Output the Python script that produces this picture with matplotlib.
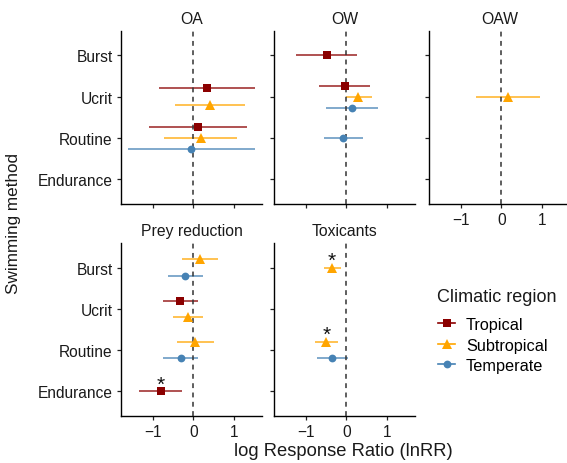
import matplotlib.pyplot as plt
from matplotlib.lines import Line2D

plt.rcParams["font.family"] = ["Liberation Sans", "DejaVu Sans"]
plt.rcParams["lines.scale_dashes"] = False

methods = ["Burst", "Ucrit", "Routine", "Endurance"]
regions = ["Tropical", "Subtropical", "Temperate"]
panels = ["OA", "OW", "OAW", "Prey reduction", "Toxicants"]

# one row per effect size estimate
panel = ["OA", "OA", "OA", "OA", "OA",
         "OW", "OW", "OW", "OW", "OW",
         "OAW",
         "Prey reduction", "Prey reduction", "Prey reduction", "Prey reduction",
         "Prey reduction", "Prey reduction", "Prey reduction",
         "Toxicants", "Toxicants", "Toxicants"]
method = ["Ucrit", "Ucrit", "Routine", "Routine", "Routine",
          "Burst", "Ucrit", "Ucrit", "Ucrit", "Routine",
          "Ucrit",
          "Burst", "Burst", "Ucrit", "Ucrit", "Routine", "Routine", "Endurance",
          "Burst", "Routine", "Routine"]
region = ["Tropical", "Subtropical", "Tropical", "Subtropical", "Temperate",
          "Tropical", "Tropical", "Subtropical", "Temperate", "Temperate",
          "Subtropical",
          "Subtropical", "Temperate", "Tropical", "Subtropical", "Subtropical", "Temperate", "Tropical",
          "Subtropical", "Subtropical", "Temperate"]
estimate = [0.34, 0.40, 0.11, 0.18, -0.05,
            -0.48, -0.04, 0.29, 0.14, -0.08,
            0.16,
            0.17, -0.20, -0.32, -0.14, 0.05, -0.31, -0.80,
            -0.35, -0.49, -0.35]
ci_low = [-0.85, -0.46, -1.08, -0.71, -1.62,
          -1.23, -0.68, -0.02, -0.50, -0.56,
          -0.62,
          -0.28, -0.63, -0.75, -0.50, -0.39, -0.75, -1.33,
          -0.56, -0.78, -0.72]
ci_high = [1.53, 1.28, 1.31, 1.07, 1.53,
           0.26, 0.59, 0.63, 0.78, 0.42,
           0.96,
           0.61, 0.24, 0.12, 0.23, 0.50, 0.12, -0.28,
           -0.14, -0.21, 0.03]
signif = [False, False, False, False, False,
          False, False, False, False, False,
          False,
          False, False, False, False, False, False, True,
          True, True, False]

colors = {"Tropical": "#8B0000", "Subtropical": "#FFA500", "Temperate": "#4682B4"}
markers = {"Tropical": "s", "Subtropical": "^", "Temperate": "o"}
msize = {"Tropical": 5.4, "Subtropical": 6.6, "Temperate": 5.6}

fig = plt.figure(figsize=(5.67, 4.64), dpi=100)
W, H = 567, 464


def add_axes(left, top, width=141, height=173):
    return fig.add_axes([left / W, (H - top - height) / H, width / W, height / H])


positions = {
    "OA": (121, 31.7), "OW": (274, 31.7), "OAW": (429, 31.7),
    "Prey reduction": (121, 244.0), "Toxicants": (274, 244.0),
}
bottom_labels = {"OAW", "Prey reduction", "Toxicants"}
left_labels = {"OA", "Prey reduction"}

dodge = 0.8
for p in panels:
    ax = add_axes(*positions[p])
    rows = [i for i in range(len(panel)) if panel[i] == p]
    ax.axvline(0, color="#333333", lw=1.1, ls=(0, (3.5, 3.2)), zorder=3)
    for m in methods:
        grp = [i for i in rows if method[i] == m]
        grp.sort(key=lambda i: regions.index(region[i]))
        n = len(grp)
        for k, i in enumerate(grp):
            y = methods.index(m) + (k - (n - 1) / 2) * dodge / n
            c = colors[region[i]]
            ax.plot([ci_low[i], ci_high[i]], [y, y], color=c, lw=1.2, alpha=0.8,
                    solid_capstyle="butt", zorder=2)
            ax.plot(estimate[i], y, marker=markers[region[i]], color=c,
                    ms=msize[region[i]], mew=0, ls="none", zorder=4)
            if signif[i]:
                ax.annotate("*", (estimate[i], y), xytext=(0, -1.5),
                            textcoords="offset points", ha="center", va="bottom",
                            fontsize=15, color="#111111")
    ax.set_xlim(-1.78, 1.69)
    ax.set_ylim(3.6, -0.6)
    ax.set_xticks([-1, 0, 1])
    ax.set_yticks(range(len(methods)))
    ax.set_yticklabels(methods)
    for s in ["top", "right"]:
        ax.spines[s].set_visible(False)
    for s in ["left", "bottom"]:
        ax.spines[s].set_linewidth(1.0)
        ax.spines[s].set_color("black")
    ax.tick_params(length=3, width=0.9, color="#222222", labelsize=11.2,
                   labelcolor="#1a1a1a", pad=3)
    if p not in bottom_labels:
        ax.tick_params(labelbottom=False)
    if p not in left_labels:
        ax.tick_params(labelleft=False)
    ax.set_title(p, fontsize=11.3, pad=5.5, color="#1a1a1a")
    ax.set_facecolor("none")

fig.text(0.024, (H - 224) / H, "Swimming method", rotation=90, ha="center",
         va="center", fontsize=12.3, color="#1a1a1a")
fig.text(343 / W, (H - 451.5) / H, "log Response Ratio (lnRR)", ha="center",
         va="center", fontsize=13.2, color="#1a1a1a")

fig.text(437 / W, (H - 297) / H, "Climatic region", ha="left", va="center",
         fontsize=13, color="#1a1a1a")
handles = [Line2D([0], [0], color=colors[r], marker=markers[r], ms=msize[r],
                  mew=0, lw=1.2) for r in regions]
leg = fig.legend(handles, regions, loc="upper left",
                 bbox_to_anchor=(438 / W, (H - 318) / H), frameon=False,
                 fontsize=11.7, handlelength=1.05, handletextpad=0.68,
                 labelspacing=0.34, borderaxespad=0, borderpad=0)

fig.savefig("out.png", dpi=100)
